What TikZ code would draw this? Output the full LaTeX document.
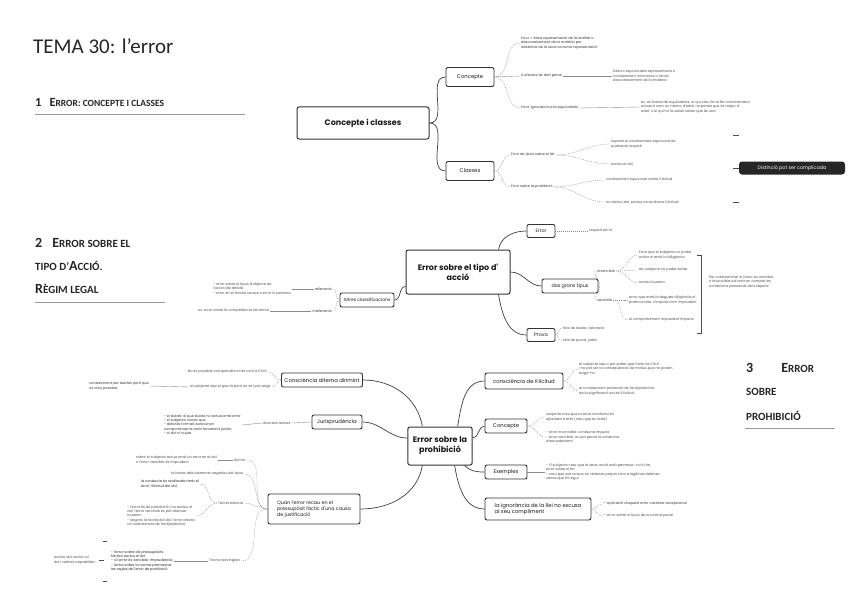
\documentclass[tikz,border=0pt]{standalone}
\usepackage{fontspec}
\setmainfont{Carlito}
\newfontfamily\mapfont{Poppins}
\newfontfamily\mapfontm{Poppins Medium}
\begin{document}
\begin{tikzpicture}[x=1pt,y=-1pt,
  box/.style={draw=black!80,rounded corners=2pt,line width=0.9pt,fill=white,font=\mapfont\fontsize{5.3}{6.3}\selectfont,inner sep=3pt,text=black!90},
  bigbox/.style={box,font=\mapfont\bfseries\fontsize{8}{10}\selectfont,inner sep=5pt,align=center,line width=1pt},
  leaf/.style={anchor=west,font=\mapfont\fontsize{3.5}{4.4}\selectfont,text=black!70,inner sep=1pt,align=left},
  mid/.style={leaf,text=black!80},
  link/.style={draw=black!75,line width=0.7pt},
  dl/.style={draw=black!45,line width=0.4pt,dashed,dash pattern=on 1pt off 1pt},
  sl/.style={draw=black!45,line width=0.4pt},
  hd/.style={anchor=west,font=\bfseries\fontsize{14}{16}\selectfont,text=black!85,inner sep=0pt}]
\useasboundingbox[fill=white] (0,0) rectangle (848,599);
% headings
\node[anchor=west,font=\fontsize{21}{23}\selectfont,text=black!85,inner sep=0pt] (title) at (33,46) {TEMA 30: l'error};
\node[hd,font=\bfseries\fontsize{12.5}{14}\selectfont] (h1) at (35,102) {1\hspace{8pt}E{\fontsize{9.5}{11}\selectfont RROR: CONCEPTE I CLASSES}};
\coordinate (u1a) at (35,114); \coordinate (u1b) at (245,114);
\draw[black!40,line width=0.6pt] (u1a) -- (u1b);
\node[hd] (h2a) at (35,243) {2\hspace{10pt}E{\fontsize{11}{13}\selectfont RROR SOBRE EL}};
\node[hd] (h2b) at (35,266) {{\fontsize{11}{13}\selectfont TIPO D'}A{\fontsize{11}{13}\selectfont CCIÓ.}};
\node[hd] (h2c) at (35,289) {R{\fontsize{11}{13}\selectfont ÈGIM LEGAL}};
\coordinate (u2a) at (35,302); \coordinate (u2b) at (165,302);
\draw[black!40,line width=0.6pt] (u2a) -- (u2b);
\node[hd] (h3a) at (746,368) {3\hspace{28pt}E{\fontsize{11}{13}\selectfont RROR}};
\node[hd] (h3b) at (746,392) {{\fontsize{11}{13}\selectfont SOBRE}};
\node[hd] (h3c) at (746,416) {{\fontsize{11}{13}\selectfont PROHIBICIÓ}};
\coordinate (u3a) at (745,428); \coordinate (u3b) at (835,428);
\draw[black!40,line width=0.6pt] (u3a) -- (u3b);

% ===== map 1
\node[bigbox,minimum width=132pt,minimum height=32pt] (c1) at (363,123) {Concepte i classes};
\node[box,minimum width=48pt,minimum height=19pt] (con) at (470,77) {Concepte};
\node[box,minimum width=48pt,minimum height=19pt] (cla) at (470,171) {Classes};
\draw[link] (c1.east) to[out=0,in=180] (con.west);
\draw[link] (c1.east) to[out=0,in=180] (cla.west);
\node[mid] (a1) at (520,43) {Error = falsa representació de la realitat o\\desconeixement de la matèria per\\absència de la seva correcta representació};
\node[mid] (a2) at (520,76) {A efectes de dret penal};
\node[leaf] (a2b) at (612,76) {falsa o equivocada representació o\\coneixement incorrecte o erroni\\desconeixement de la matèria};
\node[mid] (a3) at (520,108) {Error, ignorància són equivalents};
\node[leaf] (a3b) at (640,107) {ex. es tracta de equivalents: el qui creu fer el fet correctament\\actuant com un menor d'edat, no pensa que és major d'\\edat, o el qui no fa saber saber que és una};
\draw[dl] (con.east) to[out=0,in=180] (a1.west);
\draw[sl] (con.east) -- (a2.west);
\draw[dl] (con.east) to[out=0,in=180] (a3.west);
\draw[sl] (a2.east) -- (a2b.west);
\draw[sl] (a3.east) -- (a3b.west);
\node[mid] (b1) at (510,155) {Error de tipus sobre el fet};
\node[mid] (b2) at (510,187) {Error sobre la prohibició};
\draw[dl] (cla.east) to[out=0,in=180] (b1.west);
\draw[dl] (cla.east) to[out=0,in=180] (b2.west);
\node[leaf] (b1a) at (610,144) {suposa el coneixement equivocat de\\qualsevol requisit};
\node[leaf] (b1b) at (610,164) {exclou el dol};
\node[leaf] (b2a) at (605,180) {coneixement equivocat sobre il·licitud};
\node[leaf] (b2b) at (605,202) {no exclou dol, exclou consciència il·licitud};
\draw[dl] (b1.east) to[out=0,in=180] (b1a.west);
\draw[dl] (b1.east) to[out=0,in=180] (b1b.west);
\draw[dl] (b2.east) to[out=0,in=180] (b2a.west);
\draw[dl] (b2.east) to[out=0,in=180] (b2b.west);
\coordinate (d1a) at (733,135); \coordinate (d1b) at (739,135);
\coordinate (d2a) at (733,168); \coordinate (d2b) at (739,168);
\coordinate (d3a) at (733,202); \coordinate (d3b) at (739,202);
\draw[black!70,line width=0.6pt] (d1a)--(d1b) (d2a)--(d2b) (d3a)--(d3b);
\node[fill=black!85,text=white,rounded corners=3pt,font=\mapfont\fontsize{4.8}{5}\selectfont,minimum width=106pt,minimum height=13pt] (dist) at (792,168) {Distinció pot ser complicada};

% ===== map 2
\node[bigbox,minimum width=104pt,minimum height=44pt] (c2) at (458,272) {Error sobre el tipo d'\\acció};
\node[box,minimum width=28pt,minimum height=13pt,font=\mapfont\fontsize{4.8}{5}\selectfont] (er) at (541,231) {Error};
\node[box,minimum width=56pt,minimum height=14pt,font=\mapfont\fontsize{4.8}{5}\selectfont] (dg) at (570,286) {dos grans tipus};
\node[box,minimum width=28pt,minimum height=13pt,font=\mapfont\fontsize{4.8}{5}\selectfont] (pr) at (541,335) {Prova};
\node[box,minimum width=54pt,minimum height=14pt,font=\mapfont\fontsize{4.5}{5}\selectfont] (al) at (367,300) {Altres classificacions};
\draw[link] (c2.north east) ++(-12,0) coordinate (c2n) to[out=80,in=180] (er.west);
\draw[link] (c2.east) to[out=0,in=180] (dg.west);
\draw[link] (c2.south east) ++(-12,0) coordinate (c2s) to[out=-80,in=180] (pr.west);
\draw[link] (c2.south west) ++(0,-8) coordinate (c2w) to[out=180,in=0] (al.east);
\node[leaf] (e1) at (588,231) {requisit art.14};
\draw[dl] (er.east) -- (e1.west);
\node[mid] (inv) at (596,271) {invencible};
\node[mid] (ven) at (596,300) {vencible};
\draw[dl] (dg.east) to[out=0,in=180] (inv.west);
\draw[dl] (dg.east) to[out=0,in=180] (ven.west);
\node[leaf] (i1) at (638,255) {Error que el subjecte no podia\\evitar ni amb la diligència};
\node[leaf] (i2) at (638,270) {els subjecte no podia evitar};
\node[leaf] (i3) at (638,283) {exclou la pena};
\node[leaf] (v1) at (628,300) {error que amb la deguda diligència el\\podria evitar, s'imputa com imprudent};
\node[leaf] (v2) at (628,320) {el comportament imprudent impune};
\foreach \t in {i1,i2,i3} \draw[dl] (inv.east) to[out=0,in=180] (\t.west);
\foreach \t in {v1,v2} \draw[dl] (ven.east) to[out=0,in=180] (\t.west);
\coordinate (br1) at (697,255); \coordinate (br2) at (701,255);
\coordinate (br3) at (701,333); \coordinate (br4) at (697,333);
\draw[black!70,line width=0.6pt] (br1)--(br2)--(br3)--(br4);
\node[leaf] (brt) at (708,282) {Per a determinar si l'error es vencible\\o invencible cal tenir en compte les\\condicions personals del subjecte};
\node[leaf] (p1) at (562,328) {fets de dubte, valoració};
\node[leaf] (p2) at (562,341) {fets de prova, judici};
\draw[dl] (pr.east) to[out=0,in=180] (p1.west);
\draw[dl] (pr.east) to[out=0,in=180] (p2.west);
\node[mid,anchor=east] (rel) at (333,289) {rellevants};
\node[mid,anchor=east] (irr) at (333,311) {irrellevants};
\draw[dl] (al.west) to[out=180,in=0] (rel.east);
\draw[dl] (al.west) to[out=180,in=0] (irr.east);
\node[leaf,anchor=east] (r1) at (292,289) {- error sobre el tipus d'objecte de\\l'acció del delicte\\- error en el mòdul causal o error in persona};
\node[leaf,anchor=east] (ir1) at (270,311) {ex. error sobre la competència territorial};
\draw[sl] (rel.west) -- (r1.east);
\draw[sl] (irr.west) -- (ir1.east);

% ===== map 3
\node[bigbox,minimum width=62pt,minimum height=38pt] (c3) at (440,446) {Error sobre la\\prohibició};
\node[box,minimum width=78pt,minimum height=16pt] (ci) at (524,381) {consciència de il·licitud};
\node[box,minimum width=42pt,minimum height=14pt] (cp) at (506,426) {Concepte};
\node[box,minimum width=42pt,minimum height=14pt] (ex) at (506,472) {Exemples};
\node[box,minimum width=106pt,minimum height=22pt,align=left] (ig) at (538,509) {la ignorància de la llei no excusa\\al seu compliment};
\draw[link] (c3.north east) ++(-15,0) coordinate (c3a) to[out=80,in=180] (ci.west);
\draw[link] (c3.east) ++(0,-8) coordinate (c3b) to[out=0,in=180] (cp.west);
\draw[link] (c3.south east) ++(-8,0) coordinate (c3c) to[out=-45,in=180] (ex.west);
\draw[link] (c3.south east) ++(-18,0) coordinate (c3d) to[out=-80,in=180] (ig.west);
\node[leaf] (k1) at (578,369) {el subjecte sap o pot saber que l'acte és il·lícit\\i no pot ser la conseqüència de motius que no poden\\exigir-ho};
\node[leaf] (k2) at (578,391) {el coneixement potencial de l'antijuridicitat\\de la significació social il·licitud};
\draw[dl] (ci.east) to[out=0,in=180] (k1.west);
\draw[dl] (ci.east) to[out=0,in=180] (k2.west);
\node[leaf] (q1) at (545,417) {subjecte creu que la seva conducta és\\ajustada a dret (creu que és lícita)};
\node[leaf] (q2) at (545,437) {- error invencible: conducta impune\\- error vencible: es pot penar la conducta\\atenuadament};
\draw[dl] (cp.east) to[out=0,in=180] (q1.west);
\draw[dl] (cp.east) to[out=0,in=180] (q2.west);
\node[leaf] (x1) at (545,472) {- El subjecte creu que la seva acció està permesa i no hi ha\\error sobre el fet\\- creu que pot actuar en defensa pròpia com a legítima defensa\\sense que ho sigui};
\draw[sl] (ex.east) -- (x1.west);
\node[leaf,text=black!80] (g1) at (602,504) {— aplicació d'aquest error caràcter excepcional};
\node[leaf] (g2) at (602,516) {— error sobre el tipus de la norma penal};
\draw[dl] (ig.east) to[out=0,in=180] (g1.west);
\draw[dl] (ig.east) to[out=0,in=180] (g2.west);
% left
\node[box,minimum width=80pt,minimum height=14pt] (ca) at (322,380) {Consciència alterna dirimint};
\node[box,minimum width=50pt,minimum height=14pt] (ju) at (337,422) {Jurisprudència};
\node[box,minimum width=92pt,minimum height=30pt,align=left,font=\mapfont\fontsize{4.8}{5.8}\selectfont] (qe) at (314,509) {Quan l'error recau en el\\pressupòsit fàctic d'una causa\\de justificació};
\draw[link] (c3.north west) ++(15,0) coordinate (c3e) to[out=100,in=0] (ca.east);
\draw[link] (c3.west) ++(0,-8) coordinate (c3f) to[out=180,in=0] (ju.east);
\draw[link] (c3.south west) ++(15,0) coordinate (c3g) to[out=-100,in=0] (qe.east);
\node[leaf,anchor=east] (l1) at (268,372) {No és possible comprendre el fet com a il·lícit};
\node[leaf,anchor=east] (l2) at (272,387) {el subjecte sap el que fa però no se'l pot exigir};
\draw[dl] (ca.west) to[out=180,in=0] (l1.east);
\draw[dl] (ca.west) to[out=180,in=0] (l2.east);
\node[leaf,anchor=east,text=black!80] (l3) at (150,386) {coneixement per dubtes però que\\es creu possible};
\draw[sl] (l2.west) -- (l3.east);
\node[leaf] (jt) at (262,423) {diverses teories};
\draw[sl] (ju.west) -- (jt.east);
\node[leaf,anchor=east,text=black!80] (jx) at (242,425) {- el dubte: el que dubta no actua amb error\\- el subjecte coneix que\\- delictes formals sancionen\\comportaments amb fonament jurídic,\\- ni dol ni culpa};
\draw[sl] (jt.west) -- (jx.east);
\node[leaf] (t1) at (233,460) {dirimir};
\node[leaf] (t2) at (170,474) {la teoria dels elements negatius del tipus};
\node[leaf] (t3) at (217,503) {Teoria estricta};
\node[leaf] (t4) at (208,561) {Teoria restringida};
\foreach \t in {t1,t2,t3,t4} \draw[dl] (qe.west) to[out=180,in=0] (\t.east);
\node[leaf,anchor=east] (t1x) at (218,460) {sobre el subjecte actua amb un error en el dol\\o l'error vencible és imprudent};
\draw[sl] (t1.west) -- (t1x.east);
\node[leaf,anchor=east,text=black!85] (t3a) at (200,484) {la conducta és realitzada amb el\\error, il·licitud del dol};
\node[leaf,anchor=east] (t3b) at (196,516) {- l'error és de prohibició i no exclou el\\dol, l'error vencible es pot atenuar\\la pena\\- segons la teoria del dol, l'error afecta\\al coneixement de l'antijuridicitat};
\draw[dl] (t3.west) to[out=180,in=0] (t3a.east);
\draw[dl] (t3.west) to[out=180,in=0] (t3b.east);
\node[leaf,anchor=west,text=black!85] (t4a) at (110,561) {- l'error sobre els pressupòsits\\fàctics exclou el dol\\- si l'error és vencible: imprudència\\- l'error sobre la norma permissiva\\les regles de l'error de prohibició};
\draw[sl] (t4.west) -- (t4a.east);
\node[leaf,anchor=east] (t4b) at (96,560) {exclou dol, exclou el\\dol i admet culpabilitat};
\coordinate (m1a) at (99,560); \coordinate (m1b) at (104,560);
\coordinate (m2a) at (103,541); \coordinate (m2b) at (107,541);
\coordinate (m3a) at (103,581); \coordinate (m3b) at (107,581);
\draw[black!70,line width=0.5pt] (m1a)--(m1b) (m2a)--(m2b) (m3a)--(m3b);
\end{tikzpicture}
\end{document}
